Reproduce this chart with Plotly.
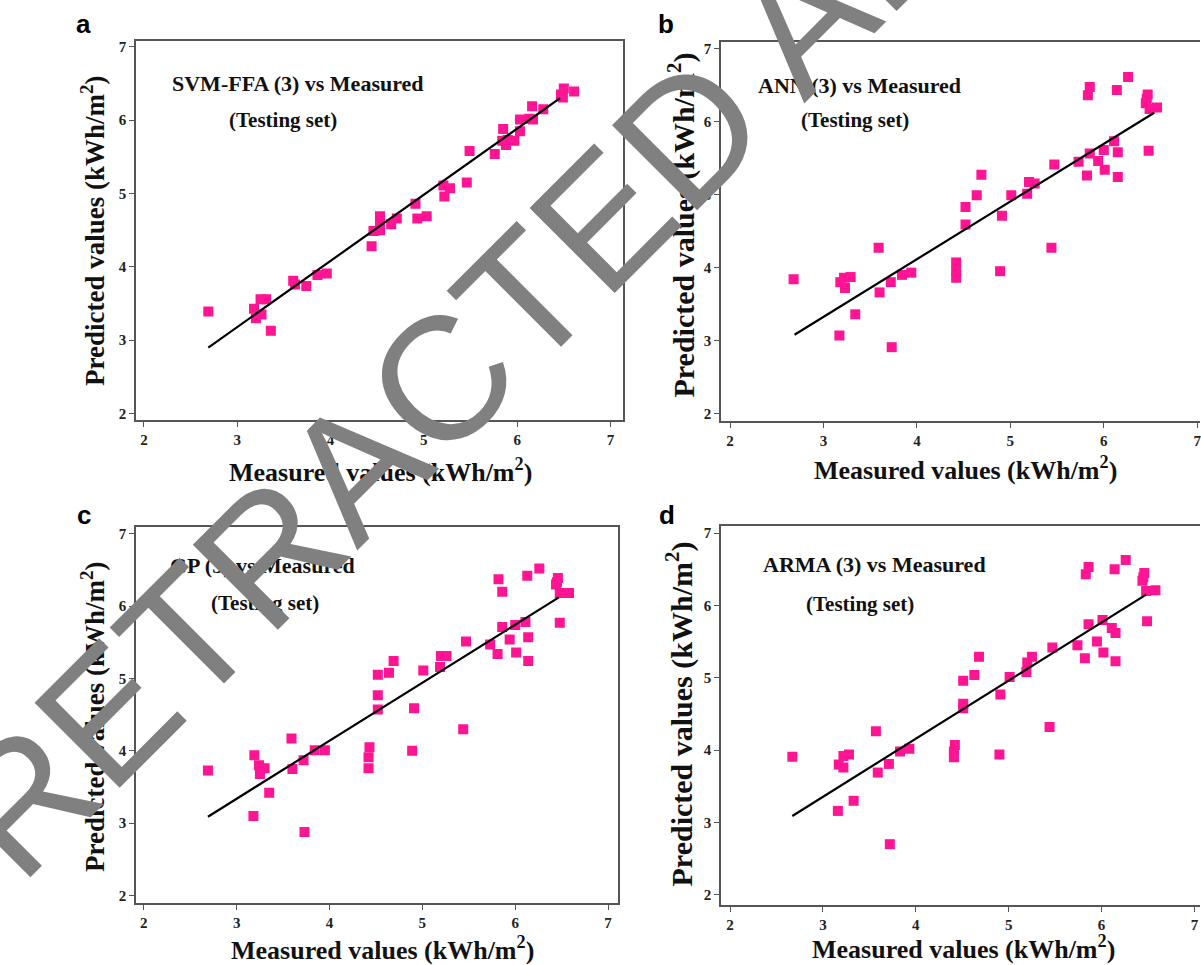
import plotly.graph_objects as go

# ---------------- data ----------------
svm_measured = [2.69, 3.18, 3.20, 3.26, 3.25, 3.31, 3.36, 3.60, 3.62, 3.74, 3.86, 3.96,
                4.44, 4.46, 4.53, 4.53, 4.53, 4.65, 4.71, 4.91, 4.93, 5.03, 5.21, 5.22,
                5.28, 5.46, 5.49, 5.76, 5.85, 5.84, 5.88, 5.90, 5.97, 6.03, 6.03, 6.13,
                6.17, 6.16, 6.28, 6.47, 6.49, 6.50, 6.61]
svm_predicted = [3.39, 3.43, 3.30, 3.35, 3.56, 3.56, 3.13, 3.81, 3.76, 3.74, 3.89, 3.91,
                 4.28, 4.49, 4.69, 4.60, 4.50, 4.58, 4.66, 4.86, 4.66, 4.69, 5.11, 4.96,
                 5.07, 5.15, 5.58, 5.54, 5.88, 5.72, 5.66, 5.73, 5.72, 6.01, 5.85, 6.02,
                 6.01, 6.19, 6.15, 6.35, 6.31, 6.43, 6.39]
svm_fit_x = [2.69, 6.46]
svm_fit_y = [2.90, 6.30]

ann_measured = [2.68, 3.17, 3.18, 3.22, 3.23, 3.29, 3.34, 3.59, 3.60, 3.72, 3.73, 3.84,
                3.94, 4.42, 4.42, 4.42, 4.52, 4.52, 4.64, 4.69, 4.91, 4.89, 5.01, 5.18,
                5.20, 5.26, 5.44, 5.47, 5.73, 5.82, 5.83, 5.85, 5.85, 5.94, 6.00, 6.01,
                6.11, 6.14, 6.15, 6.15, 6.26, 6.45, 6.47, 6.48, 6.49, 6.57, 6.46]
ann_predicted = [3.84, 3.07, 3.80, 3.86, 3.72, 3.87, 3.36, 4.27, 3.66, 3.80, 2.91, 3.90,
                 3.93, 4.07, 3.95, 3.86, 4.83, 4.59, 4.99, 5.27, 4.71, 3.95, 4.99, 5.01,
                 5.17, 5.15, 4.27, 5.41, 5.45, 5.26, 6.36, 6.47, 5.56, 5.46, 5.61, 5.34,
                 5.73, 6.43, 5.58, 5.24, 6.61, 6.25, 6.37, 5.60, 6.17, 6.19, 6.31]
ann_fit_x = [2.69, 6.54]
ann_fit_y = [3.08, 6.12]

gp_measured = [2.69, 3.18, 3.19, 3.24, 3.25, 3.30, 3.35, 3.59, 3.60, 3.72, 3.73, 3.84,
               3.95, 4.43, 4.42, 4.42, 4.52, 4.52, 4.52, 4.64, 4.69, 4.91, 4.89, 5.01,
               5.19, 5.20, 5.26, 5.44, 5.47, 5.73, 5.81, 5.82, 5.86, 5.86, 5.94, 6.00,
               6.01, 6.11, 6.13, 6.14, 6.14, 6.26, 6.44, 6.46, 6.48, 6.48, 6.58, 6.45]
gp_predicted = [3.73, 3.10, 3.94, 3.80, 3.68, 3.76, 3.42, 4.17, 3.75, 3.87, 2.88, 4.01,
                4.01, 4.05, 3.91, 3.76, 5.05, 4.77, 4.57, 5.08, 5.24, 4.59, 4.00, 5.11,
                5.16, 5.31, 5.31, 4.30, 5.51, 5.47, 5.34, 6.37, 6.20, 5.71, 5.54, 5.74,
                5.36, 5.78, 6.42, 5.57, 5.24, 6.52, 6.30, 6.39, 6.18, 5.77, 6.18, 6.33]
gp_fit_x = [2.69, 6.47]
gp_fit_y = [3.09, 6.12]

arma_measured = [2.67, 3.16, 3.17, 3.22, 3.22, 3.28, 3.33, 3.57, 3.59, 3.71, 3.72, 3.83,
                 3.93, 4.42, 4.41, 4.41, 4.51, 4.51, 4.51, 4.63, 4.68, 4.91, 4.90, 5.01,
                 5.19, 5.20, 5.25, 5.44, 5.47, 5.74, 5.82, 5.83, 5.86, 5.86, 5.95, 6.01,
                 6.02, 6.11, 6.14, 6.15, 6.15, 6.26, 6.44, 6.46, 6.48, 6.49, 6.58, 6.45]
arma_predicted = [3.91, 3.16, 3.80, 3.92, 3.76, 3.94, 3.30, 4.26, 3.69, 3.81, 2.70, 3.98,
                  4.02, 4.07, 3.98, 3.90, 4.96, 4.64, 4.58, 5.04, 5.29, 4.77, 3.94, 5.01,
                  5.08, 5.21, 5.29, 4.32, 5.42, 5.45, 5.27, 6.43, 6.53, 5.74, 5.50, 5.80,
                  5.35, 5.69, 6.50, 5.62, 5.23, 6.63, 6.34, 6.45, 6.20, 5.78, 6.21, 6.39]
arma_fit_x = [2.67, 6.48]
arma_fit_y = [3.09, 6.15]

tick_vals = [2, 3, 4, 5, 6, 7]
tick_text = ["2", "3", "4", "5", "6", "7"]
panel_letters = ["a", "b", "c", "d"]
panel_titles = ["SVM-FFA (3) vs Measured", "ANN (3) vs Measured",
                "GP (3) vs Measured", "ARMA (3) vs Measured"]
subtitle = "(Testing set)"
x_title = "Measured values (kWh/m<sup>2</sup>)"
y_title = "Predicted values (kWh/m<sup>2</sup>)"
watermark = "RETRACTED ARTICLE"

# ---------------- figure ----------------
W, H = 1201, 965
SERIF = "Liberation Serif"
PINK = "#FF1493"
AXC = "#555555"

def px(x):
    return x / W

def py(y):
    return 1 - y / H

panels = [
    dict(meas=svm_measured, pred=svm_predicted, fx=svm_fit_x, fy=svm_fit_y,
         xd=[px(136), px(623.3)], yd=[py(420), py(39.3)],
         xr=[1.914, 7.132], yr=[1.909, 7.077], mirror_y=True),
    dict(meas=ann_measured, pred=ann_predicted, fx=ann_fit_x, fy=ann_fit_y,
         xd=[px(721.7), 1.0], yd=[py(420.7), py(40)],
         xr=[1.904, 7.03], yr=[1.90, 7.09], mirror_y=False),
    dict(meas=gp_measured, pred=gp_predicted, fx=gp_fit_x, fy=gp_fit_y,
         xd=[px(136), px(618.3)], yd=[py(905), py(526.7)],
         xr=[1.914, 7.105], yr=[1.894, 7.10], mirror_y=True),
    dict(meas=arma_measured, pred=arma_predicted, fx=arma_fit_x, fy=arma_fit_y,
         xd=[px(721.7), 1.0], yd=[py(906.7), py(525.7)],
         xr=[1.903, 7.06], yr=[1.86, 7.105], mirror_y=False),
]

fig = go.Figure()
layout = dict(width=W, height=H, margin=dict(l=0, r=0, t=0, b=0),
              paper_bgcolor="white", plot_bgcolor="white", showlegend=False)

tickfont = dict(family=SERIF, size=15, color="#222222", weight="bold")
for i, p in enumerate(panels):
    n = "" if i == 0 else str(i + 1)
    xa, ya = "x" + n, "y" + n
    fig.add_trace(go.Scatter(x=p["meas"], y=p["pred"], mode="markers",
                             marker=dict(symbol="square", size=10, color=PINK),
                             xaxis=xa, yaxis=ya))
    fig.add_trace(go.Scatter(x=p["fx"], y=p["fy"], mode="lines",
                             line=dict(color="black", width=2.2),
                             xaxis=xa, yaxis=ya))
    layout["xaxis" + n] = dict(domain=p["xd"], range=p["xr"], anchor=ya,
                               showgrid=False, zeroline=False, showline=True,
                               linecolor=AXC, linewidth=1.5, mirror=True,
                               ticks="outside", ticklen=5, tickwidth=1.2, tickcolor=AXC,
                               tickvals=tick_vals, ticktext=tick_text, tickfont=tickfont,
                               ticklabeloverflow="allow")
    layout["yaxis" + n] = dict(domain=p["yd"], range=p["yr"], anchor=xa,
                               showgrid=False, zeroline=False, showline=True,
                               linecolor=AXC, linewidth=1.5, mirror=p["mirror_y"],
                               ticks="outside", ticklen=5, tickwidth=1.2, tickcolor=AXC,
                               tickvals=tick_vals, ticktext=tick_text, tickfont=tickfont)

annotations = []
letter_pos = [(84, 22), (667, 22), (84, 515), (668, 515)]
for L, (x, y) in zip(panel_letters, letter_pos):
    annotations.append(dict(text=L, x=px(x), y=py(y), xref="paper", yref="paper",
                            showarrow=False, xanchor="center", yanchor="middle",
                            font=dict(family="Liberation Sans", size=26, color="black",
                                      weight="bold")))

title_pos = [(170, 82), (757, 84), (168, 566), (762, 565)]
sub_pos = [(283, 118), (856, 118), (265, 604), (861, 605)]
for t, (x, y), (sx, sy) in zip(panel_titles, title_pos, sub_pos):
    annotations.append(dict(text=t, x=px(x), y=py(y), xref="paper", yref="paper",
                            showarrow=False, xanchor="left", yanchor="middle",
                            font=dict(family=SERIF, size=22, color="#111111", weight="bold")))
    annotations.append(dict(text=subtitle, x=px(sx), y=py(sy), xref="paper", yref="paper",
                            showarrow=False, xanchor="center", yanchor="middle",
                            font=dict(family=SERIF, size=21, color="#111111", weight="bold")))

xt_pos = [(381, 470), (966, 468), (383, 950), (964, 949)]
yt_pos = [(93, 230), (682, 224), (93, 718), (680, 715)]
yt_size = [27, 30, 27, 30]
for (x, y) in xt_pos:
    annotations.append(dict(text=x_title, x=px(x), y=py(y), xref="paper", yref="paper",
                            showarrow=False, xanchor="center", yanchor="middle",
                            font=dict(family=SERIF, size=26, color="#111111", weight="bold")))
for (x, y), s in zip(yt_pos, yt_size):
    annotations.append(dict(text=y_title, x=px(x), y=py(y), xref="paper", yref="paper",
                            showarrow=False, xanchor="center", yanchor="middle",
                            textangle=-90,
                            font=dict(family=SERIF, size=s, color="#111111", weight="bold")))

annotations.append(dict(text=watermark, x=px(630), y=py(191), xref="paper", yref="paper",
                        showarrow=False, xanchor="center", yanchor="middle",
                        textangle=-45,
                        font=dict(family="Liberation Sans", size=175, color="#808080")))

layout["annotations"] = annotations
fig.update_layout(**layout)
fig.write_html("out.html")
